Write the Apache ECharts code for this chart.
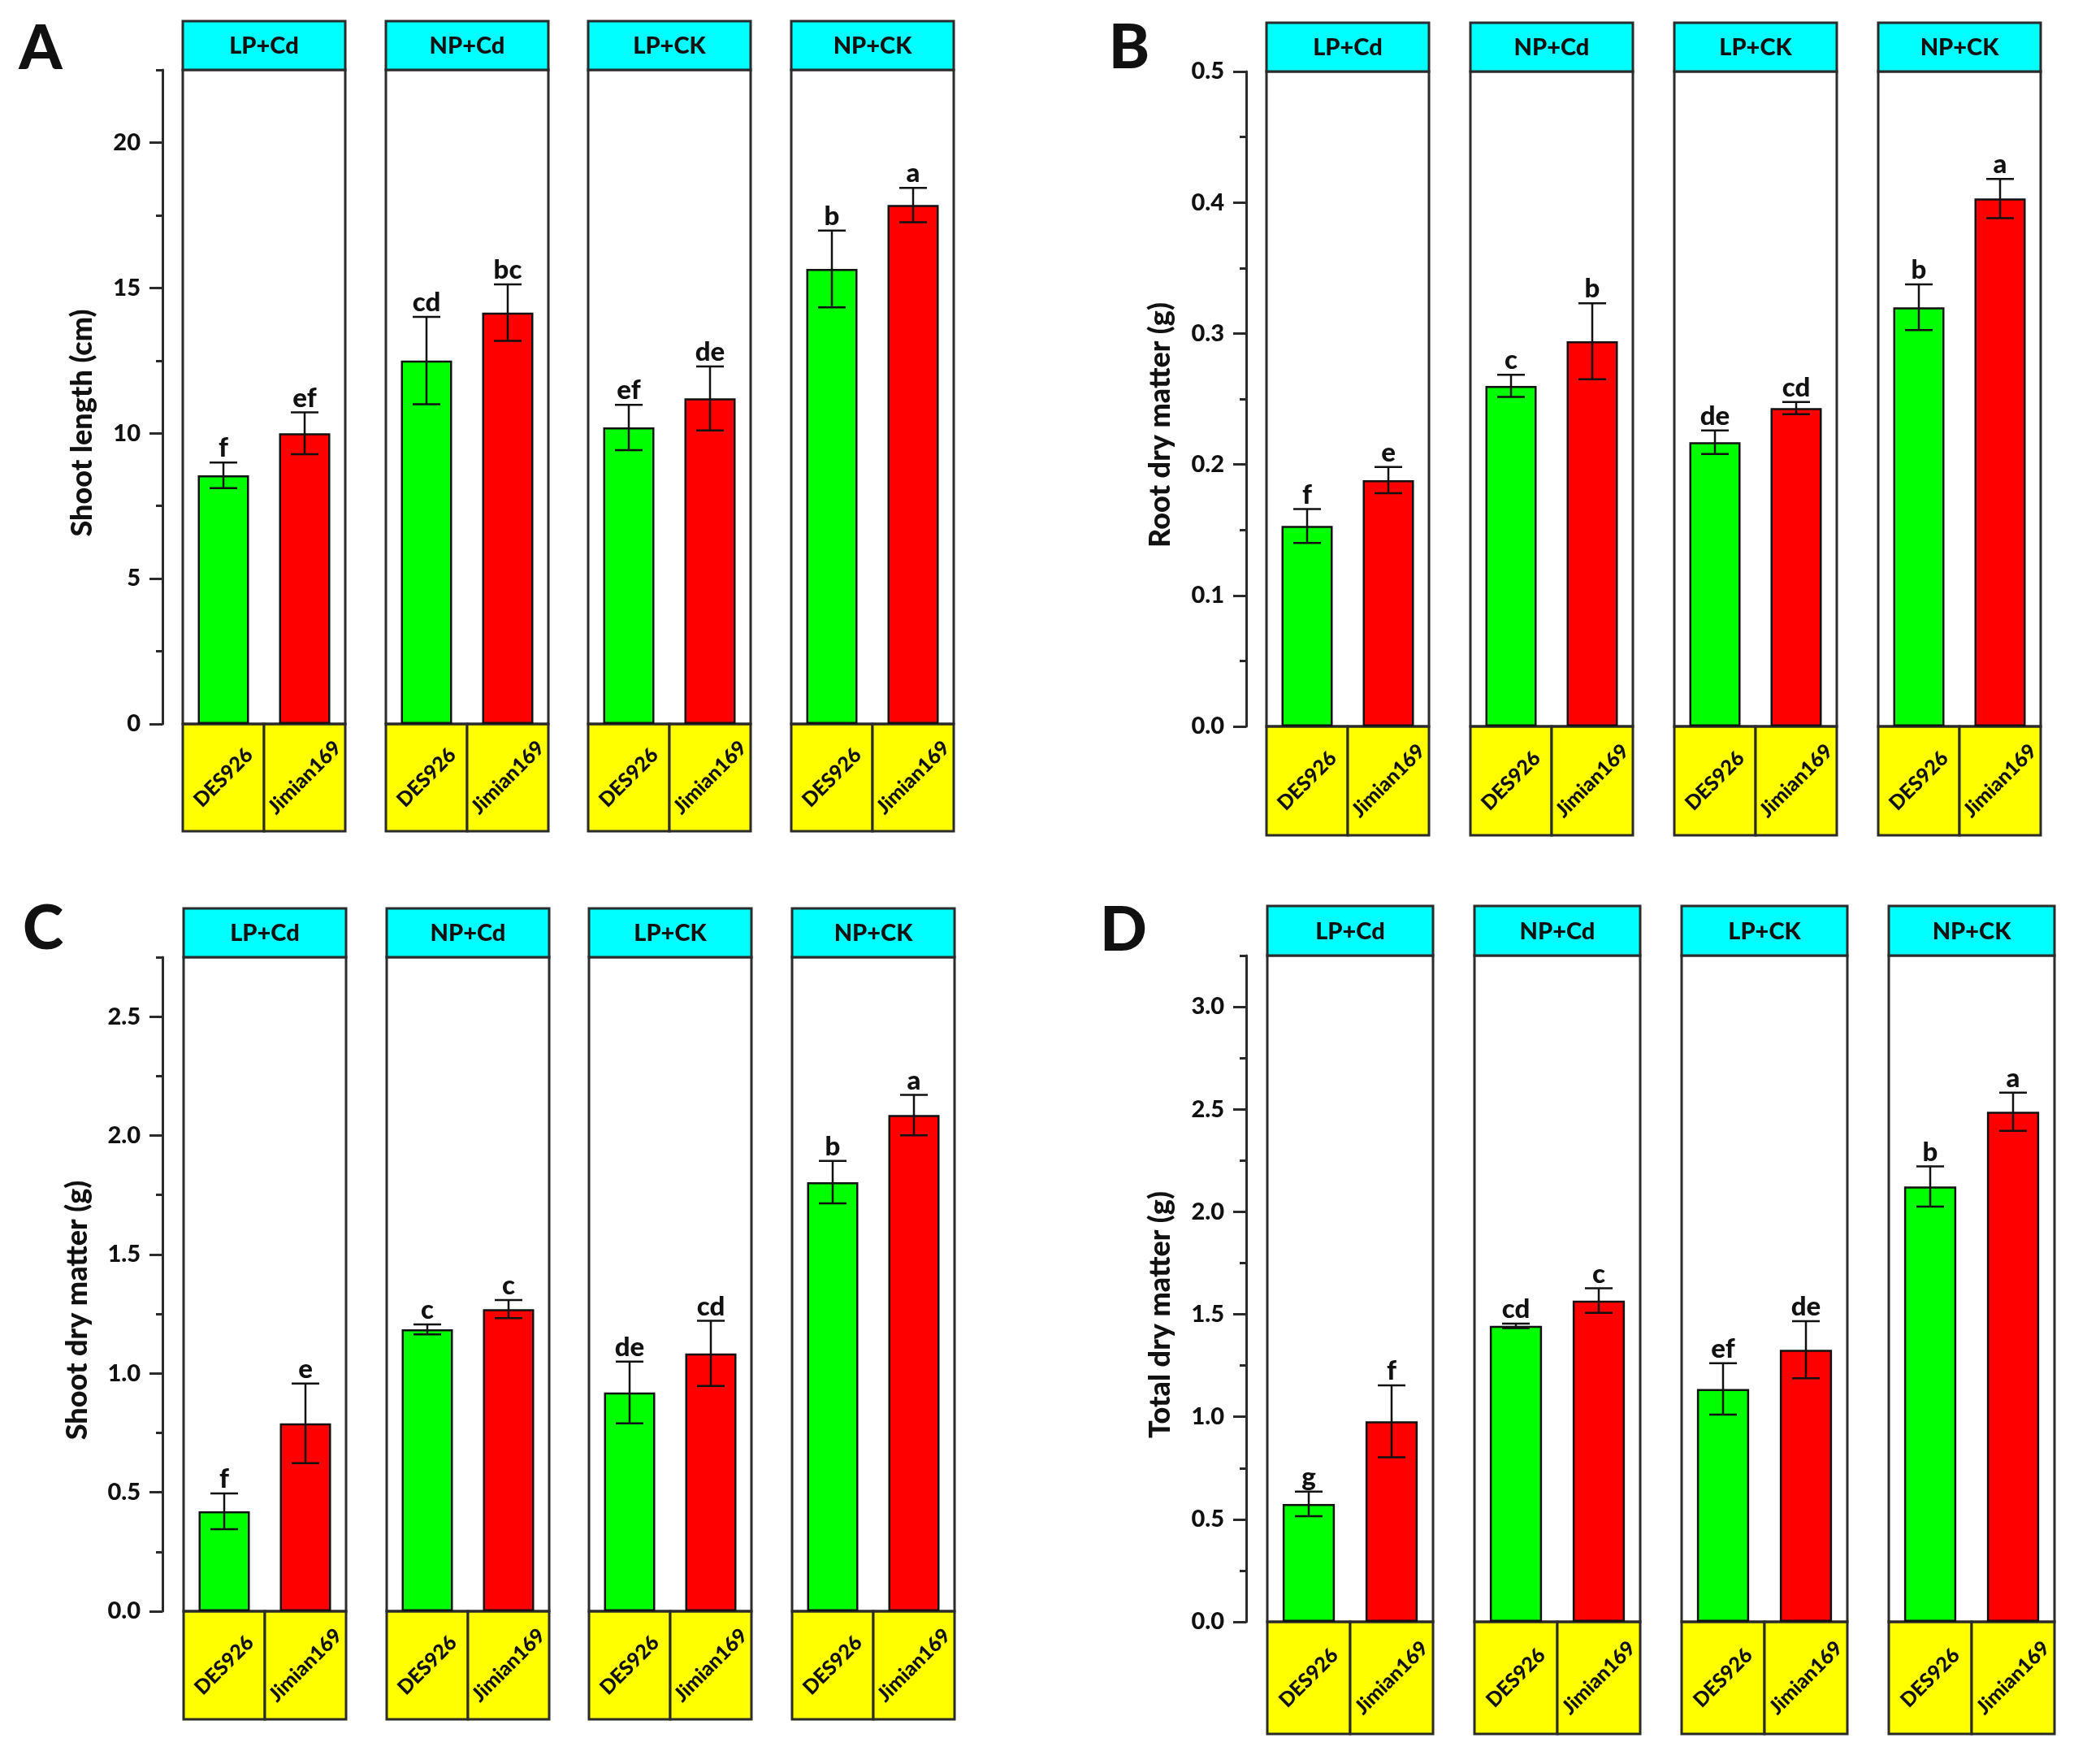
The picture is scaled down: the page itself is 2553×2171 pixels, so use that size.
<!DOCTYPE html>
<html>
<head>
<meta charset="UTF-8">
<script src="https://cdn.jsdelivr.net/npm/echarts@6/dist/echarts.min.js"></script>
<style>
html, body { margin: 0; padding: 0; background: #fff; }
#main { width: 2553px; height: 2171px; }
</style>
</head>
<body>
<div id="main"></div>
<script type="text/javascript">
var treatments = ['LP+Cd', 'NP+Cd', 'LP+CK', 'NP+CK'];
var cultivars = ['DES926', 'Jimian169'];

// every array: treatment order, DES926 then Jimian169
var shootLength    = [8.55, 10.0, 12.5, 14.15, 10.2, 11.2, 15.65, 17.85];
var shootLengthErr = [0.44, 0.72, 1.5, 0.97, 0.78, 1.1, 1.32, 0.59];
var shootLengthSig = ['f', 'ef', 'cd', 'bc', 'ef', 'de', 'b', 'a'];

var rootDry    = [0.153, 0.188, 0.26, 0.294, 0.217, 0.243, 0.32, 0.403];
var rootDryErr = [0.013, 0.010, 0.0085, 0.029, 0.009, 0.0046, 0.0175, 0.015];
var rootDrySig = ['f', 'e', 'c', 'b', 'de', 'cd', 'b', 'a'];

var shootDry    = [0.42, 0.79, 1.185, 1.27, 0.92, 1.084, 1.804, 2.086];
var shootDryErr = [0.075, 0.167, 0.021, 0.038, 0.13, 0.137, 0.089, 0.085];
var shootDrySig = ['f', 'e', 'c', 'c', 'de', 'cd', 'b', 'a'];

var totalDry    = [0.575, 0.978, 1.444, 1.567, 1.136, 1.327, 2.123, 2.488];
var totalDryErr = [0.06, 0.175, 0.011, 0.06, 0.125, 0.139, 0.098, 0.093];
var totalDrySig = ['g', 'f', 'cd', 'c', 'ef', 'de', 'b', 'a'];

// tick labels
var ticksA = [0, 5, 10, 15, 20];
var minorA = [2.5, 7.5, 12.5, 17.5, 22.5];
var ticksB = [0, 0.1, 0.2, 0.3, 0.4, 0.5];
var minorB = [0.05, 0.15, 0.25, 0.35, 0.45];
var ticksC = [0, 0.5, 1.0, 1.5, 2.0, 2.5];
var minorC = [0.25, 0.75, 1.25, 1.75, 2.25, 2.75];
var ticksD = [0, 0.5, 1.0, 1.5, 2.0, 2.5, 3.0];
var minorD = [0.25, 0.75, 1.25, 1.75, 2.25, 2.75, 3.25];

var FONT = 'Lato';
var WEIGHT = '900';
var INK = '#111';
var FRAME = '#2b2b2b';
var barColors = ['#00ff00', '#ff0000'];
var TITLE_SIZE = 36;

var panels = [
  { letter: 'A', title: 'Shoot length (cm)', vals: shootLength, errs: shootLengthErr, sig: shootLengthSig,
    max: 22.5, ticks: ticksA, minor: minorA, dec: 0,
    axisX: 200, lefts: [225, 475, 724, 974], w: 200, headTop: 26, plotTop: 86, plotBottom: 891, boxBottom: 1023,
    letterXY: [50, 60], titleDist: 99 },
  { letter: 'B', title: 'Root dry matter (g)', vals: rootDry, errs: rootDryErr, sig: rootDrySig,
    max: 0.5, ticks: ticksB, minor: minorB, dec: 1,
    axisX: 1534, lefts: [1559, 1810, 2061, 2312], w: 200, headTop: 28, plotTop: 88, plotBottom: 894, boxBottom: 1028,
    letterXY: [1390, 59], titleDist: 106 },
  { letter: 'C', title: 'Shoot dry matter (g)', vals: shootDry, errs: shootDryErr, sig: shootDrySig,
    max: 2.75, ticks: ticksC, minor: minorC, dec: 1,
    axisX: 200, lefts: [226, 476, 725, 975], w: 200, headTop: 1118, plotTop: 1178, plotBottom: 1983, boxBottom: 2116,
    letterXY: [53, 1143], titleDist: 105 },
  { letter: 'D', title: 'Total dry matter (g)', vals: totalDry, errs: totalDryErr, sig: totalDrySig,
    max: 3.25, ticks: ticksD, minor: minorD, dec: 1,
    axisX: 1534, lefts: [1560, 1815, 2070, 2325], w: 204, headTop: 1115, plotTop: 1176, plotBottom: 1996, boxBottom: 2134,
    letterXY: [1383, 1145], titleDist: 106 }
];

var grids = [], xAxes = [], yAxes = [], series = [], graphics = [];

panels.forEach(function (p) {
  graphics.push({
    type: 'text', z: 20,
    style: { text: p.letter, x: p.letterXY[0], y: p.letterXY[1], font: WEIGHT + ' 76px ' + FONT, fill: INK,
             align: 'center', verticalAlign: 'middle', textAlign: 'center', textVerticalAlign: 'middle' }
  });

  treatments.forEach(function (t, ti) {
    var gi = grids.length;
    var left = p.lefts[ti];
    grids.push({
      left: left, top: p.plotTop, width: p.w, height: p.plotBottom - p.plotTop,
      show: true, borderColor: FRAME, borderWidth: 3, backgroundColor: 'transparent',
      outerBoundsMode: 'none'
    });

    // cyan header
    graphics.push({
      type: 'rect', z: 1,
      shape: { x: left, y: p.headTop, width: p.w, height: p.plotTop - p.headTop },
      style: { fill: '#00ffff', stroke: FRAME, lineWidth: 3 }
    });
    graphics.push({
      type: 'text', z: 2,
      style: { text: t, x: left + p.w / 2, y: (p.headTop + p.plotTop) / 2 + 1, font: WEIGHT + ' 29px ' + FONT, fill: INK,
               align: 'center', verticalAlign: 'middle', textAlign: 'center', textVerticalAlign: 'middle' }
    });
    // yellow cultivar cells
    cultivars.forEach(function (c, ci) {
      graphics.push({
        type: 'rect', z: -1,
        shape: { x: left + ci * p.w / 2, y: p.plotBottom, width: p.w / 2, height: p.boxBottom - p.plotBottom },
        style: { fill: '#ffff00', stroke: FRAME, lineWidth: 3 }
      });
    });

    xAxes.push({
      gridIndex: gi, type: 'category', data: cultivars, z: 5,
      axisLine: { show: false }, axisTick: { show: false }, splitLine: { show: false },
      axisLabel: {
        show: true, interval: 0, rotate: 45, margin: (p.boxBottom - p.plotBottom) / 2,
        align: 'center', verticalAlign: 'middle',
        fontFamily: FONT, fontWeight: WEIGHT, fontSize: 25, color: INK
      }
    });

    var first = ti === 0;
    var yMain = {
      gridIndex: gi, type: 'value', position: 'left', min: 0, max: p.max,
      splitLine: { show: false },
      show: first
    };
    if (first) {
      yMain.offset = left - p.axisX;
      yMain.axisLine = { show: true, lineStyle: { color: FRAME, width: 3 } };
      yMain.axisTick = { show: true, inside: false, length: 16, customValues: p.ticks, lineStyle: { color: FRAME, width: 3 } };
      yMain.axisLabel = {
        show: true, margin: 27, customValues: p.ticks,
        fontFamily: FONT, fontWeight: WEIGHT, fontSize: 29, color: INK,
        formatter: (function (d) { return function (v) { return Number(v).toFixed(d); }; })(p.dec)
      };
      yMain.name = p.title;
      yMain.nameLocation = 'middle';
      yMain.nameRotate = 90;
      yMain.nameGap = p.titleDist - TITLE_SIZE / 2;
      yMain.nameTextStyle = { fontFamily: FONT, fontWeight: WEIGHT, fontSize: TITLE_SIZE, color: INK, padding: [0, 64, 0, 0] };
    }
    yAxes.push(yMain);
    var yIndex = yAxes.length - 1;

    if (first) {
      // minor ticks on the same left axis line
      yAxes.push({
        gridIndex: gi, type: 'value', position: 'left', min: 0, max: p.max, offset: left - p.axisX,
        axisLine: { show: false }, axisLabel: { show: false }, splitLine: { show: false },
        axisTick: { show: true, inside: false, length: 8, customValues: p.minor, lineStyle: { color: FRAME, width: 3 } }
      });
    }

    var vals = [p.vals[ti * 2], p.vals[ti * 2 + 1]];
    var errs = [p.errs[ti * 2], p.errs[ti * 2 + 1]];
    var sigs = [p.sig[ti * 2], p.sig[ti * 2 + 1]];

    series.push({
      type: 'bar', xAxisIndex: gi, yAxisIndex: yIndex, barWidth: '63%', silent: true,
      itemStyle: { borderColor: INK, borderWidth: 2.5 },
      data: vals.map(function (v, i) { return { value: v, itemStyle: { color: barColors[i] } }; })
    });

    series.push({
      type: 'custom', xAxisIndex: gi, yAxisIndex: yIndex, silent: true, z: 3,
      data: vals.map(function (v, i) { return [i, v, errs[i]]; }),
      renderItem: (function (sigs) {
        return function (params, api) {
          var x = api.value(0), v = api.value(1), e = api.value(2);
          var top = api.coord([x, v + e]);
          var bot = api.coord([x, v - e]);
          var hw = 17;
          var ls = { stroke: INK, lineWidth: 2.5 };
          return {
            type: 'group',
            children: [
              { type: 'line', shape: { x1: top[0], y1: top[1], x2: bot[0], y2: bot[1] }, style: ls },
              { type: 'line', shape: { x1: top[0] - hw, y1: top[1], x2: top[0] + hw, y2: top[1] }, style: ls },
              { type: 'line', shape: { x1: bot[0] - hw, y1: bot[1], x2: bot[0] + hw, y2: bot[1] }, style: ls },
              { type: 'text', style: { text: sigs[params.dataIndex], x: top[0], y: top[1] - 1,
                  font: WEIGHT + ' 33px ' + FONT, fill: INK,
                  align: 'center', verticalAlign: 'bottom', textAlign: 'center', textVerticalAlign: 'bottom' } }
            ]
          };
        };
      })(sigs)
    });
  });
});

var myChart = echarts.init(document.getElementById('main'));
myChart.setOption({
  animation: false,
  backgroundColor: '#fff',
  grid: grids,
  xAxis: xAxes,
  yAxis: yAxes,
  series: series,
  graphic: { elements: graphics }
});
</script>
</body>
</html>
